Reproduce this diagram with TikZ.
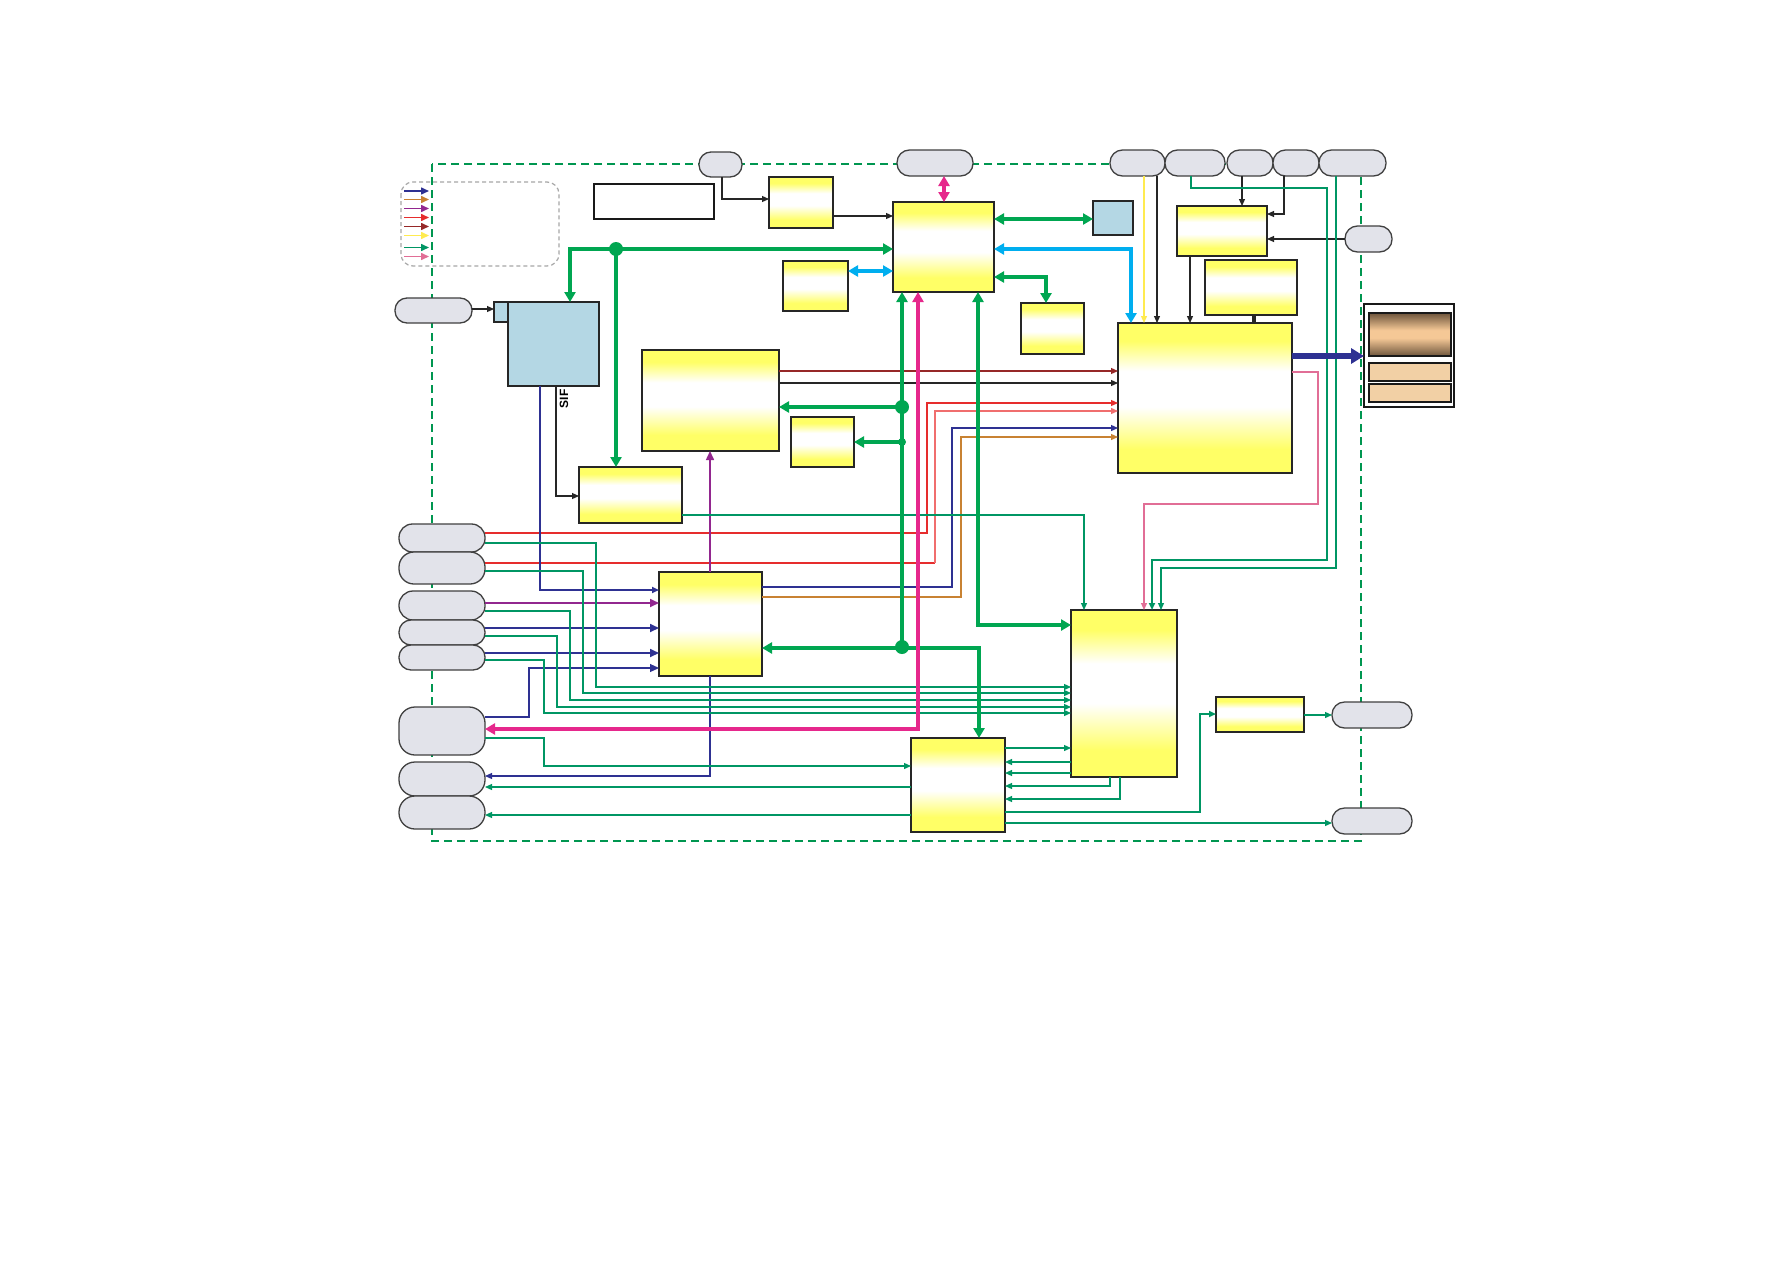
\documentclass[tikz,border=0pt]{standalone}
\usepackage{fontspec}
\setsansfont{Liberation Sans}
\usetikzlibrary{arrows.meta}
\definecolor{gbus}{RGB}{0,166,81}
\definecolor{gsig}{RGB}{0,150,100}
\definecolor{gdashc}{RGB}{0,150,80}
\definecolor{cyanbus}{RGB}{0,174,239}
\definecolor{pinkbus}{RGB}{230,40,140}
\definecolor{navyc}{RGB}{46,49,146}
\definecolor{sigred}{RGB}{230,45,45}
\definecolor{lredc}{RGB}{240,110,110}
\definecolor{dredc}{RGB}{150,40,40}
\definecolor{orngc}{RGB}{200,130,50}
\definecolor{purpc}{RGB}{146,39,143}
\definecolor{ysigc}{RGB}{255,235,80}
\definecolor{psigc}{RGB}{225,110,150}
\definecolor{ylw}{RGB}{255,255,102}
\definecolor{lblue}{RGB}{180,215,228}
\definecolor{capfill}{RGB}{226,227,234}
\definecolor{brnc}{RGB}{110,85,60}
\definecolor{tanc}{RGB}{245,200,150}
\definecolor{tanfill}{RGB}{242,208,165}
\pgfdeclareverticalshading{yshade}{100bp}{color(0bp)=(ylw); color(25bp)=(ylw); color(33bp)=(ylw); color(47bp)=(white); color(59bp)=(white); color(69bp)=(ylw); color(100bp)=(ylw)}
\pgfdeclareverticalshading{dshade}{100bp}{color(0bp)=(brnc); color(25bp)=(brnc); color(46bp)=(tanc); color(55bp)=(tanc); color(75bp)=(brnc); color(100bp)=(brnc)}
\newcommand\mybox[6]{\node[#1, minimum width={(#5-#3)*1pt}, minimum height={(#6-#4)*1pt}] (#2) at ({(#3+#5)/2},{(#4+#6)/2}) {};}
\newcommand\mycap[6]{\node[capn, rounded corners=#6pt, minimum width={(#4-#2)*1pt}, minimum height={(#5-#3)*1pt}] (#1) at ({(#2+#4)/2},{(#3+#5)/2}) {};}
\tikzset{
 ybox/.style={rectangle, draw=black!85, line width=1.1pt, shade, shading=yshade, inner sep=0pt, outer sep=0pt},
 bbox/.style={rectangle, draw=black!85, line width=1.1pt, fill=lblue, inner sep=0pt, outer sep=0pt},
 tbox/.style={rectangle, draw=black!90, line width=2.6pt, fill=white, inner sep=0pt, outer sep=0pt},
 dout/.style={rectangle, draw=black!90, line width=1.5pt, fill=white, inner sep=0pt, outer sep=0pt},
 dgrad/.style={rectangle, draw=black!90, line width=1.3pt, shade, shading=dshade, inner sep=0pt, outer sep=0pt},
 tanbox/.style={rectangle, draw=black!90, line width=1.3pt, fill=tanfill, inner sep=0pt, outer sep=0pt},
 capn/.style={rectangle, draw=black!75, line width=1.3pt, fill=capfill, inner sep=0pt, outer sep=0pt},
 arr/.style={-{Triangle[length=7pt,width=6pt]}},
 marr/.style={-{Triangle[length=9pt,width=8pt]}},
 barr/.style={-{Triangle[length=10pt,width=11pt]}},
 barr2/.style={{Triangle[length=10pt,width=11pt]}-{Triangle[length=10pt,width=11pt]}},
 blk/.style={draw=black!85, line width=1.1pt},
 gsigl/.style={draw=gsig, line width=1.2pt},
 gsigl2/.style={draw=gsig, line width=1.8pt},
 gbusl/.style={draw=gbus, line width=4.5pt},
 pbusl/.style={draw=pinkbus, line width=4pt},
 cbusl/.style={draw=cyanbus, line width=4pt},
 gdash/.style={draw=gdashc, line width=2pt, dash pattern=on 8pt off 5pt},
 legbox/.style={draw=black!35, line width=1.2pt, dash pattern=on 4pt off 3pt, rounded corners=12pt},
}
\begin{document}
\begin{tikzpicture}[x=1pt,y=-1pt]
\fill[white] (0,0) rectangle (1787,1263);
\useasboundingbox (0,0) rectangle (1787,1263);
% outer dashed frame and legend
\draw[gdash] (432,164) rectangle (1361,841);
\draw[legbox] (401,182) rectangle (559,266);
\foreach \c/\y in {navyc/191,orngc/199.5,purpc/208.5,sigred/217.5,dredc/226.5,ysigc/235.5,gsig/247.5,psigc/256.5}
  \draw[draw=\c, line width=1.5pt, -{Triangle[length=8pt,width=7pt]}] (404,\y) -- (429,\y);
% boxes
\mybox{ybox}{A1}{769}{177}{833}{228}
\mybox{ybox}{C}{893}{202}{994}{292}
\mybox{ybox}{D}{783}{261}{848}{311}
\mybox{bbox}{E}{1093}{201}{1133}{235}
\mybox{ybox}{F}{1021}{303}{1084}{354}
\mybox{ybox}{H}{1177}{206}{1267}{256}
\mybox{ybox}{I}{1205}{260}{1297}{315}
\draw[draw=black!85, line width=2.6pt] (I.north east) -- (I.south east) -- (I.south west);
\mybox{ybox}{G}{1118}{323}{1292}{473}
\mybox{ybox}{B}{642}{350}{779}{451}
\mybox{ybox}{L}{791}{417}{854}{467}
\mybox{ybox}{K}{579}{467}{682}{523}
\mybox{ybox}{M}{659}{572}{762}{676}
\mybox{ybox}{J}{1071}{610}{1177}{777}
\mybox{ybox}{N}{911}{738}{1005}{832}
\mybox{ybox}{O}{1216}{697}{1304}{732}
\mybox{bbox}{SB}{494}{302}{508}{322}
\mybox{bbox}{BB}{508}{302}{599}{386}
\mybox{tbox}{TB}{594}{184}{714}{219}
\mybox{dout}{DO}{1364}{304}{1454}{407}
\mybox{dgrad}{DG}{1369}{313}{1451}{356}
\mybox{tanbox}{TN1}{1369}{363}{1451}{381}
\mybox{tanbox}{TN2}{1369}{384}{1451}{402}
\node[font=\sffamily\bfseries\fontsize{12}{12}\selectfont, rotate=90, inner sep=0pt] (sif) at (564,399) {SIF};
% capsules
\mycap{T1}{699}{152}{742}{177}{12}
\mycap{T2}{897}{150}{973}{176}{12.5}
\mycap{Ca}{1110}{150}{1165}{176}{12.5}
\mycap{Cb}{1165}{150}{1225}{176}{12.5}
\mycap{Cc}{1227}{150}{1273}{176}{12.5}
\mycap{Cd}{1273}{150}{1319}{176}{12.5}
\mycap{Ce}{1319}{150}{1386}{176}{12.5}
\mycap{R1}{1345}{226}{1392}{252}{12.5}
\mycap{L0}{395}{298}{472}{323}{12}
\mycap{P1}{399}{524}{485}{552}{13.5}
\mycap{P2}{399}{552}{485}{584}{15}
\mycap{P3}{399}{591}{485}{620}{14}
\mycap{P4}{399}{620}{485}{645}{12}
\mycap{P5}{399}{645}{485}{670}{12}
\mycap{P6}{399}{707}{485}{755}{16}
\mycap{P7}{399}{762}{485}{796}{16}
\mycap{P8}{399}{796}{485}{829}{16}
\mycap{R2}{1332}{702}{1412}{728}{12.5}
\mycap{R3}{1332}{808}{1412}{834}{12.5}
% thin black / coloured signals
\draw[blk,arr] (722,0 |- T1.south) |- (A1.west |- 0,199);
\draw[blk,arr] (A1.east |- 0,216) -- (C.west |- 0,216);
\draw[blk,arr] (L0.east |- 0,309) -- (SB.west |- 0,309);
\draw[blk,arr] (556,0 |- BB.south) |- (K.west |- 0,496);
\draw[draw=ysigc, line width=1.2pt, arr] (1144,0 |- Ca.south) -- (1144,0 |- G.north);
\draw[blk,arr] (1157,0 |- Ca.south) -- (1157,0 |- G.north);
\draw[blk,arr] (1242,0 |- Cc.south) -- (1242,0 |- H.north);
\draw[blk,arr] (1284,0 |- Cd.south) |- (H.east |- 0,214);
\draw[blk,arr] (R1.west) -- (H.east |- R1.west);
\draw[blk,arr] (1190,0 |- H.south) -- (1190,0 |- G.north);
\draw[draw=black!85, line width=4pt] (1254,0 |- I.south) -- (1254,0 |- G.north);
\draw[draw=dredc, line width=1.2pt, arr] (B.east |- 0,371) -- (G.west |- 0,371);
\draw[blk,arr] (B.east |- 0,383) -- (G.west |- 0,383);
\draw[draw=sigred, line width=1.2pt, arr] (P1.east |- 0,533) -| (927,403) -- (G.west |- 0,403);
\draw[draw=sigred, line width=2.6pt] (P2.east |- 0,563) -- (935,563);
\draw[draw=lredc, line width=1.3pt, arr] (935,563) |- (G.west |- 0,411);
\draw[draw=navyc, line width=1.2pt, arr] (M.east |- 0,587) -| (952,428) -- (G.west |- 0,428);
\draw[draw=orngc, line width=1.2pt, arr] (M.east |- 0,597) -| (961,437) -- (G.west |- 0,437);
\draw[draw=navyc, line width=1.7pt, arr] (540,0 |- BB.south) |- (M.west |- 0,590);
\draw[draw=purpc, line width=1.7pt, marr] (P3.east |- 0,603) -- (M.west |- 0,603);
\draw[draw=navyc, line width=1.7pt, marr] (P4.east |- 0,628) -- (M.west |- 0,628);
\draw[draw=navyc, line width=1.7pt, marr] (P5.east |- 0,653) -- (M.west |- 0,653);
\draw[draw=navyc, line width=1.2pt, marr] (P6.east |- 0,717) -| (529,668) -- (M.west |- 0,668);
\draw[draw=navyc, line width=1.2pt, arr] (710,0 |- M.south) |- (P7.east |- 0,776);
\draw[draw=purpc, line width=1.5pt, marr] (710,0 |- M.north) -- (710,0 |- B.south);
% green signals
\draw[gsigl,arr] (K.east |- 0,515) -| (1084,0 |- J.north);
\draw[gsigl,arr] (P1.east |- 0,543) -| (596,687) -- (J.west |- 0,687);
\draw[gsigl,arr] (P2.east |- 0,571) -| (583,693) -- (J.west |- 0,693);
\draw[gsigl,arr] (P3.east |- 0,611) -| (570,700) -- (J.west |- 0,700);
\draw[gsigl,arr] (P4.east |- 0,636) -| (557,707) -- (J.west |- 0,707);
\draw[gsigl,arr] (P5.east |- 0,660) -| (544,713) -- (J.west |- 0,713);
\draw[gsigl,arr] (P6.east |- 0,738) -| (544,766) -- (N.west |- 0,766);
\draw[gsigl,arr] (N.east |- 0,748) -- (J.west |- 0,748);
\draw[gsigl,arr] (J.west |- 0,762) -- (N.east |- 0,762);
\draw[gsigl,arr] (J.west |- 0,773) -- (N.east |- 0,773);
\draw[gsigl,arr] (1110,0 |- J.south) |- (N.east |- 0,786);
\draw[gsigl,arr] (1120,0 |- J.south) |- (N.east |- 0,799);
\draw[gsigl2,arr] (N.east |- 0,812) -| (1200,714) -- (O.west |- 0,714);
\draw[gsigl,arr] (O.east |- 0,715) -- (R2.west |- 0,715);
\draw[gsigl,arr] (N.east |- 0,823) -- (R3.west |- 0,823);
\draw[gsigl,arr] (N.west |- 0,787) -- (P7.east |- 0,787);
\draw[gsigl,arr] (N.west |- 0,815) -- (P8.east |- 0,815);
\draw[gsigl2,arr] (1191,0 |- Cb.south) |- (1327,188) |- (1152,560) -- (1152,0 |- J.north);
\draw[gsigl,arr] (1336,0 |- Ce.south) |- (1161,568) -- (1161,0 |- J.north);
\draw[draw=psigc, line width=1.2pt, arr] (G.east |- 0,372) -| (1318,504) -| (1144,0 |- J.north);
% buses
\draw[gbusl,barr2] (570,0 |- BB.north) |- (C.west |- 0,249);
\draw[gbusl,barr] (616,249) -- (616,0 |- K.north);
\draw[gbusl,barr2] (C.east |- 0,219) -- (E.west |- 0,219);
\draw[gbusl,barr2] (C.east |- 0,277) -| (1046,0 |- F.north);
\draw[gbusl,barr] (902,647) -- (902,0 |- C.south);
\draw[gbusl,barr] (902,407) -- (B.east |- 0,407);
\draw[gbusl,barr] (902,442) -- (L.east |- 0,442);
\draw[gbusl,barr2] (M.east |- 0,648) -| (979,0 |- N.north);
\draw[gbusl,barr2] (J.west |- 0,625) -| (978,0 |- C.south);
\draw[pbusl,barr2] (P6.east |- 0,729) -| (918,0 |- C.south);
\draw[pbusl,barr2] (944,0 |- T2.south) -- (944,0 |- C.north);
\draw[cbusl,barr2] (C.east |- 0,249) -| (1131,0 |- G.north);
\draw[cbusl,barr2] (D.east |- 0,271) -- (C.west |- 0,271);
\draw[draw=navyc, line width=6pt, -{Triangle[length=13pt,width=15pt]}] (G.east |- 0,356) -- (DO.west |- 0,356);
% junction dots
\fill[gbus] (616,249) circle[radius=7pt];
\fill[gbus] (902,407) circle[radius=7pt];
\fill[gbus] (902,647) circle[radius=7pt];
\fill[gbus] (902,442) circle[radius=4pt];
\end{tikzpicture}
\end{document}
